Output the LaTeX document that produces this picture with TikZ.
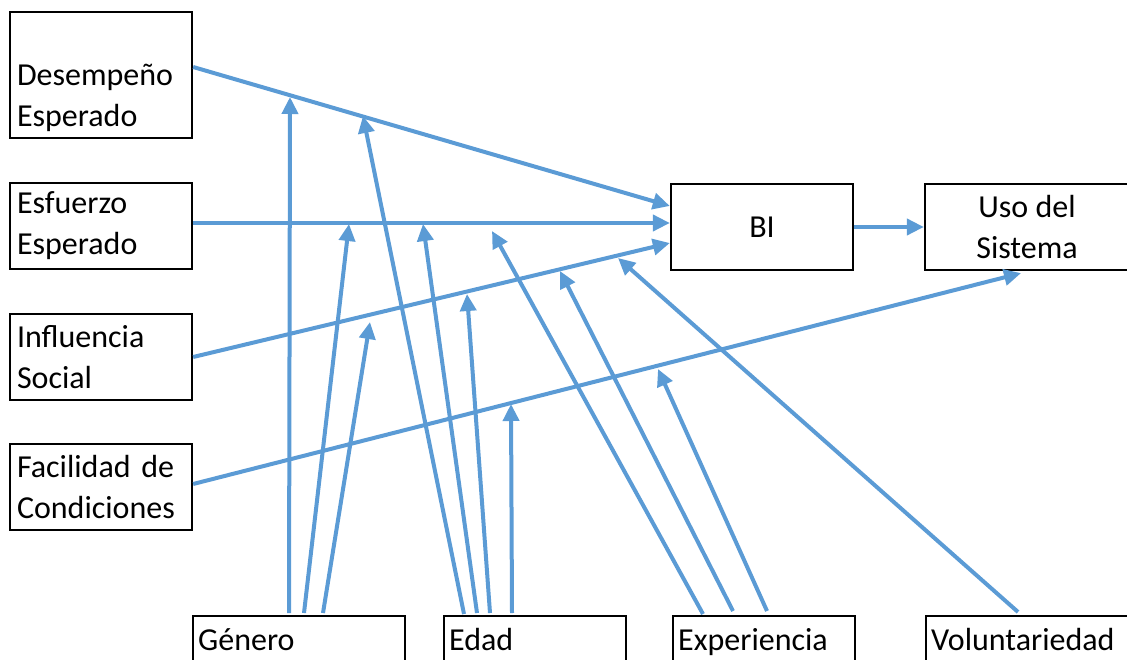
\documentclass[tikz,border=0pt]{standalone}
\usepackage{fontspec}
\setmainfont{Carlito}
\usetikzlibrary{arrows.meta}
\definecolor{lineblue}{HTML}{5B9BD5}

\begin{document}
\begin{tikzpicture}[x=1pt,y=-1pt,
    box/.style={draw=black,line width=2.3pt,minimum width=182pt,minimum height=86pt,inner xsep=7pt,font=\fontsize{32}{41}\selectfont},
    leftbox/.style={box,text width=168pt,align=left},
    botbox/.style={draw=black,line width=2.3pt,anchor=north west,minimum height=52pt,inner xsep=5pt,align=left,text height=24pt,text depth=8pt,font=\fontsize{32}{41}\selectfont},
    link/.style={lineblue,line width=4pt,-{Triangle[length=17pt,width=16pt]}}]
                \useasboundingbox (0,0) rectangle (1127,660);
                \node[leftbox,minimum height=126pt,label={[leftbox,draw=none,yshift=-23pt]center:{Desempeño\\Esperado}}] (desempeno) at (101,75) {};
                \node[leftbox] (esfuerzo) at (101,226) {Esfuerzo\\Esperado};
                \node[leftbox] (influencia) at (101,357) {Influencia\\Social};
                \node[leftbox] (facilidad) at (101,487) {Facilidad de\\Condiciones};
                \node[box] (bi) at (762,227) {BI};
                \node[box,minimum width=204pt,align=center] (uso) at (1027,227) {Uso del\\Sistema};
                \node[botbox,minimum width=212pt,text width=202pt] (genero) at (192,615) {Género};
                \node[botbox,minimum width=182pt,text width=172pt] (edad) at (443,615) {Edad};
                \node[botbox,minimum width=182pt,text width=172pt] (experiencia) at (672,615) {Experiencia};
                \node[botbox,minimum width=204pt,text width=194pt] (voluntariedad) at (925,615) {Voluntariedad};
                \coordinate (g1) at (290,97);
                \coordinate (g2) at (349,224);
                \coordinate (g3) at (370,322);
                \coordinate (e1) at (363,116);
                \coordinate (e2) at (423,224);
                \coordinate (e3) at (467,294);
                \coordinate (e4) at (511,404);
                \coordinate (x1) at (492,231);
                \coordinate (x2) at (560,271);
                \coordinate (x3) at (658,369);
                \coordinate (v1) at (618,258);
                \draw[link] ([yshift=8pt]desempeno.east) -- ([yshift=21pt]bi.west);
                \draw[link] ([yshift=3pt]esfuerzo.east) -- ([yshift=4pt]bi.west);
                \draw[link] (influencia.east) -- ([yshift=-16pt]bi.west);
                \draw[link] ([yshift=3pt]facilidad.east) -- ([xshift=-6pt,yshift=-2pt]uso.south);
                \draw[link] (bi) -- (uso);
                \draw[link] ([xshift=97pt,yshift=2pt]genero.north west) -- (g1);
                \draw[link] ([xshift=112pt,yshift=2pt]genero.north west) -- (g2);
                \draw[link] ([xshift=131pt,yshift=2pt]genero.north west) -- (g3);
                \draw[link] ([xshift=21pt,yshift=1pt]edad.north west) -- (e1);
                \draw[link] ([xshift=34pt,yshift=2pt]edad.north west) -- (e2);
                \draw[link] ([xshift=47pt,yshift=2pt]edad.north west) -- (e3);
                \draw[link] ([xshift=69pt,yshift=2pt]edad.north west) -- (e4);
                \draw[link] ([xshift=31pt,yshift=1pt]experiencia.north west) -- (x1);
                \draw[link] ([xshift=61pt,yshift=4pt]experiencia.north west) -- (x2);
                \draw[link] ([xshift=95pt,yshift=4pt]experiencia.north west) -- (x3);
                \draw[link] ([xshift=93pt,yshift=3pt]voluntariedad.north west) -- (v1);
            \end{tikzpicture}
\end{document}
